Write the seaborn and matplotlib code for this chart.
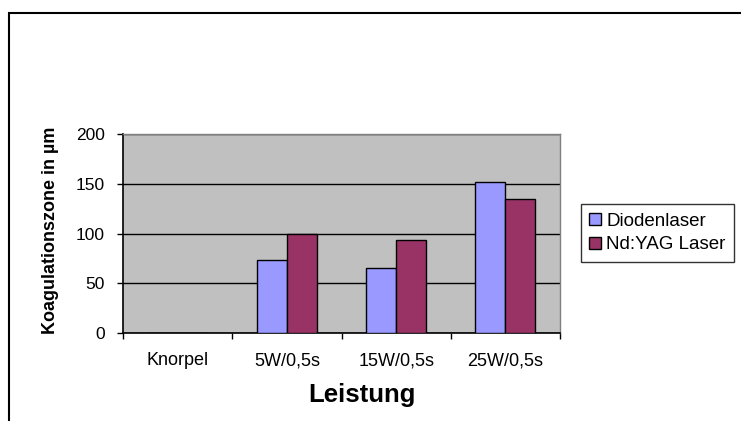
import numpy as np
import pandas as pd
import matplotlib
matplotlib.use('Agg')
import matplotlib.pyplot as plt
import seaborn as sns
from matplotlib.patches import Rectangle

# data
kategorien = ['Knorpel', '5W/0,5s', '15W/0,5s', '25W/0,5s']
dioden = [0, 73, 65, 152]
ndyag = [0, 100, 93, 135]
serien = ['Diodenlaser', 'Nd:YAG Laser']
farben = ['#9999FF', '#993366']

df = pd.DataFrame({
    'Leistung': kategorien * 2,
    'wert': dioden + ndyag,
    'laser': [serien[0]] * 4 + [serien[1]] * 4,
})

sns.set_style('white')
plt.rcParams['font.family'] = ['Liberation Sans', 'DejaVu Sans']
plt.rcParams['text.color'] = 'black'
plt.rcParams['xtick.color'] = 'black'
plt.rcParams['ytick.color'] = 'black'

fig = plt.figure(figsize=(7.41, 4.21), dpi=100)
ax = fig.add_axes([123 / 741, 88 / 421, 437 / 741, 199 / 421])
ax.set_facecolor('#C0C0C0')

sns.barplot(data=df, x='Leistung', y='wert', hue='laser', order=kategorien,
            hue_order=serien, palette=farben, width=0.55, edgecolor='black',
            linewidth=1, saturation=1, ax=ax, zorder=3)

ax.set_ylim(0, 200)
ax.set_xlim(-0.5, 3.5)
ax.set_yticks([0, 50, 100, 150, 200])
ax.yaxis.grid(True, color='black', linewidth=1, zorder=1)
ax.set_axisbelow(True)
for b in ax.patches:
    b.set_zorder(3)

ax.tick_params(axis='y', which='major', direction='out', length=4, width=1,
               labelsize=12.5, pad=9, left=True)
ax.set_xticks(range(4))
ax.set_xticklabels(kategorien)
ax.tick_params(axis='x', which='major', length=0, labelsize=13, pad=14)
ax.set_xticks(np.arange(-0.5, 4, 1), minor=True)
ax.tick_params(axis='x', which='minor', direction='out', length=4, width=1,
               bottom=True)

for s in ['left', 'bottom']:
    ax.spines[s].set_color('black')
    ax.spines[s].set_linewidth(1.2)
for s in ['top', 'right']:
    ax.spines[s].set_color('#808080')
    ax.spines[s].set_linewidth(1)

ax.set_xlabel('')
ax.set_ylabel('')

fig.text(362 / 741, 1 - 395 / 421, 'Leistung', fontsize=18.5, fontweight='bold',
         ha='center', va='center')
fig.text(51 / 741, 1 - 230 / 421, 'Koagulationszone in µm', rotation=90,
         fontsize=13, fontweight='bold',
         family=['Liberation Sans Narrow', 'Liberation Sans', 'DejaVu Sans'],
         ha='center', va='center')

leg = ax.legend(loc='center left', bbox_to_anchor=(581 / 741, 1 - 233 / 421),
                bbox_transform=fig.transFigure, frameon=True, fancybox=False,
                fontsize=13.5, handlelength=0.6, handleheight=0.6,
                handletextpad=0.3, borderpad=0.45, labelspacing=0.35,
                borderaxespad=0)
leg.get_frame().set_edgecolor('black')
leg.get_frame().set_linewidth(1)
leg.get_frame().set_facecolor('white')

# outer chart frame
fig.add_artist(Rectangle((8.5 / 741, -0.1), 1.2, (421 - 12.5) / 421 + 0.1,
                         transform=fig.transFigure, fill=False,
                         edgecolor='black', linewidth=1.5))

fig.savefig('out.png', dpi=100)
